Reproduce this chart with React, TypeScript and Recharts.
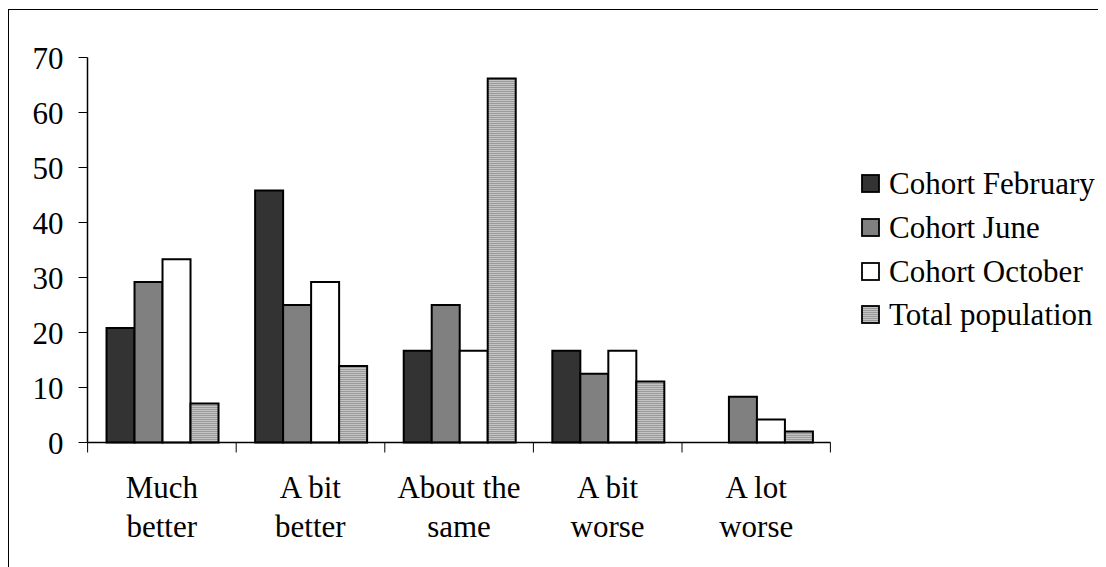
import React from "react";
import { BarChart, Bar, XAxis, YAxis, Legend } from "recharts";

const categories = ["Much better", "A bit better", "About the same", "A bit worse", "A lot worse"];
const categoryLines = [["Much", "better"], ["A bit", "better"], ["About the", "same"], ["A bit", "worse"], ["A lot", "worse"]];
const cohortFebruary = [20.8, 45.8, 16.7, 16.7, 0];
const cohortJune = [29.2, 25, 25, 12.5, 8.3];
const cohortOctober = [33.3, 29.2, 16.7, 16.7, 4.2];
const totalPopulation = [7.1, 13.9, 66.2, 11.1, 2.0];
const yTicks = [0, 10, 20, 30, 40, 50, 60, 70];

const seriesNames = ["Cohort February", "Cohort June", "Cohort October", "Total population"];
const seriesKeys = ["feb", "jun", "oct", "tot"];
const seriesFills = ["#333333", "#808080", "#ffffff", "url(#stripes)"];

const data = categories.map((c, i) => ({
  name: c,
  feb: cohortFebruary[i],
  jun: cohortJune[i],
  oct: cohortOctober[i],
  tot: totalPopulation[i],
}));

const FONT = "Liberation Serif, Times New Roman, serif";
const FS = 31;

const CatTick = (props: any) => {
  const { x, y, payload, index } = props;
  const half = 74.2;
  const lines = categoryLines[index] || [payload.value];
  return (
    <g>
      <line x1={x - half} y1={y} x2={x - half} y2={y + 10} stroke="#000" strokeWidth={1} />
      {index === categories.length - 1 && (
        <line x1={x + half} y1={y} x2={x + half} y2={y + 10} stroke="#000" strokeWidth={1} />
      )}
      <text x={x} y={y} textAnchor="middle" fontFamily={FONT} fontSize={FS} fill="#000">
        <tspan x={x} dy={55}>{lines[0]}</tspan>
        <tspan x={x} dy={39}>{lines[1]}</tspan>
      </text>
    </g>
  );
};

const LegendContent = () => (
  <div style={{ fontFamily: FONT, fontSize: FS, color: "#000" }}>
    {seriesNames.map((n, i) => (
      <div key={n} style={{ display: "flex", alignItems: "center", height: 43.7 }}>
        <svg width={20} height={20} style={{ marginRight: 8, flex: "none" }}>
          <defs>
            <pattern id={`lgstripes${i}`} patternUnits="userSpaceOnUse" width={4} height={2}>
              <rect x={0} y={0} width={4} height={2} fill="#9a9a9a" />
              <rect x={0} y={0} width={4} height={1} fill="#c4c4c4" />
            </pattern>
          </defs>
          <rect
            x={1}
            y={1}
            width={17}
            height={17}
            fill={i === 3 ? `url(#lgstripes${i})` : seriesFills[i]}
            stroke="#000"
            strokeWidth={1.8}
          />
        </svg>
        <span style={{ whiteSpace: "nowrap" }}>{n}</span>
      </div>
    ))}
  </div>
);

export default function App() {
  return (
    <div
      style={{
        position: "relative",
        width: 1100,
        height: 560,
        border: "1.5px solid #000",
        boxSizing: "border-box",
        marginTop: 1,
        background: "#fff",
      }}
    >
      <BarChart
        width={1097}
        height={557}
        data={data}
        margin={{ top: 47.5, right: 25.5, bottom: 0, left: 0 }}
        barCategoryGap="12.8%"
        barGap={0}
      >
        <defs>
          <pattern id="stripes" patternUnits="userSpaceOnUse" width={4} height={2}>
            <rect x={0} y={0} width={4} height={2} fill="#9a9a9a" />
            <rect x={0} y={0} width={4} height={1} fill="#c4c4c4" />
          </pattern>
        </defs>
        <XAxis
          dataKey="name"
          axisLine={{ stroke: "#000", strokeWidth: 1.5 }}
          tickLine={false}
          tickSize={0}
          tickMargin={0}
          tick={<CatTick />}
          interval={0}
          height={124.5}
        />
        <YAxis
          domain={[0, 70]}
          ticks={yTicks}
          axisLine={{ stroke: "#000", strokeWidth: 1.5 }}
          tickLine={{ stroke: "#000", strokeWidth: 1 }}
          tickSize={9}
          tickMargin={15}
          width={78.5}
          tick={{ fontFamily: FONT, fontSize: FS, fill: "#000" }}
          interval={0}
        />
        {seriesKeys.map((k, i) => (
          <Bar
            key={k}
            dataKey={k}
            name={seriesNames[i]}
            fill={seriesFills[i]}
            stroke="#000"
            strokeWidth={2}
            isAnimationActive={false}
          />
        ))}
        <Legend
          content={<LegendContent />}
          layout="vertical"
          verticalAlign="top"
          align="right"
          wrapperStyle={{ position: "absolute", left: 852, top: 152.5, width: 250 }}
        />
      </BarChart>
    </div>
  );
}
